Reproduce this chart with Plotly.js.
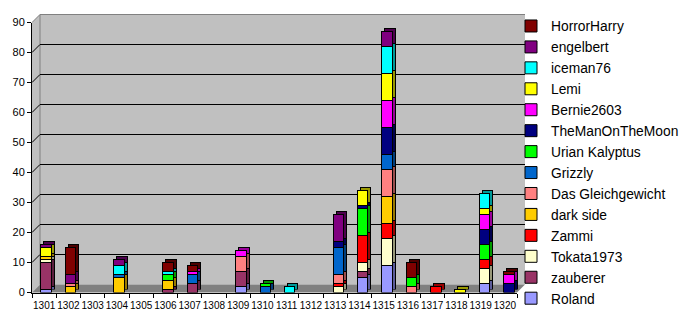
<!DOCTYPE html>
<html><head><meta charset="utf-8">
<script src="https://cdn.plot.ly/plotly-3.0.1.min.js"></script>
<style>html,body{margin:0;padding:0;background:#fff;}#chart{width:690px;height:320px;}</style>
</head><body><div id="chart"></div>
<script>
// ---------- DATA ----------
const categories = ['1301','1302','1303','1304','1305','1306','1307','1308','1309','1310',
                    '1311','1312','1313','1314','1315','1316','1317','1318','1319','1320'];
const roland          = [1,0,0,0,0,0,0,0,2,0,0,0,0,5,9,0,0,0,3,0];
const zauberer        = [9,0,0,0,0,1,3,0,5,0,0,0,0,2,0,0,0,0,0,0];
const tokata1973      = [1,0,0,0,0,0,0,0,0,0,0,0,2,3,9,0,0,0,5,0];
const zammi           = [0,0,0,0,0,0,0,0,0,0,0,0,1,9,5,0,2,0,3,0];
const darkSide        = [1,2,0,5,0,3,0,0,0,0,0,0,0,0,9,0,0,0,0,0];
const dasGleichgewicht= [0,1,0,0,0,0,0,0,5,0,0,0,3,0,9,2,0,0,0,0];
const grizzly         = [0,0,0,1,0,0,3,0,0,2,0,0,9,0,5,0,0,0,0,0];
const urianKalyptus   = [0,0,0,0,0,2,0,0,0,1,0,0,0,9,0,3,0,0,5,0];
const theManOnTheMoon = [0,0,0,0,0,0,0,0,0,0,0,0,2,1,9,0,0,0,5,3];
const bernie2603      = [0,0,0,0,0,0,1,0,2,0,0,0,0,0,9,0,0,0,5,3];
const lemi            = [3,0,0,0,0,0,0,0,0,0,0,0,0,5,9,0,0,1,2,0];
const iceman76        = [0,0,0,3,0,1,0,0,0,0,2,0,0,0,9,0,0,0,5,0];
const engelbert       = [1,3,0,2,0,0,0,0,0,0,0,0,9,0,5,0,0,0,0,0];
const horrorHarry     = [0,9,0,0,0,3,2,0,0,0,0,0,0,0,0,5,0,0,0,1];

const seriesNames  = ['Roland','zauberer','Tokata1973','Zammi','dark side','Das Gleichgewicht','Grizzly',
                      'Urian Kalyptus','TheManOnTheMoon','Bernie2603','Lemi','iceman76','engelbert','HorrorHarry'];
const seriesValues = [roland,zauberer,tokata1973,zammi,darkSide,dasGleichgewicht,grizzly,
                      urianKalyptus,theManOnTheMoon,bernie2603,lemi,iceman76,engelbert,horrorHarry];
const seriesColors = ['#9999FF','#993366','#FFFFCC','#FF0000','#FFCC00','#FF8080','#0066CC',
                      '#00FF00','#000080','#FF00FF','#FFFF00','#00FFFF','#800080','#800000'];
const yTickVals = [0,10,20,30,40,50,60,70,80,90];

// ---------- GEOMETRY (pixels) ----------
const W = 690, H = 320;
const front = {x0:32, x1:517, y0:292.5, y1:22.5};   // front plane (axes)
const barsX = {x0:34, x1:521};                       // bar positions on the front plane
const wallShift = 8;                                 // depth of the back wall
const barShift = 3;                                  // depth of the bars
const fx = px => px / W;
const fy = py => (H - py) / H;
const yMax = 90;
const frontY = v => front.y0 - (front.y0 - front.y1) * v / yMax;
const innerTicks = yTickVals.filter(v => v > 0 && v < yMax);

function darker(hex, k) {
  const n = parseInt(hex.slice(1), 16);
  const r = Math.round(((n >> 16) & 255) * k), g = Math.round(((n >> 8) & 255) * k), b = Math.round((n & 255) * k);
  return 'rgb(' + r + ',' + g + ',' + b + ')';
}
const toNull = arr => arr.map(v => v === 0 ? null : v);

const traces = [];
// empty traces so the back-wall subplot and the front axes exist
traces.push({type:'scatter', x:[], y:[], xaxis:'x', yaxis:'y', showlegend:false, hoverinfo:'skip'});
// depth (side/top faces) drawn in a slightly shifted subplot
seriesNames.forEach((name, i) => {
  traces.push({
    type:'bar', x:categories, y:toNull(seriesValues[i]), name:name, xaxis:'x2', yaxis:'y2',
    width:0.43, showlegend:false, hoverinfo:'skip',
    marker:{color:darker(seriesColors[i], 0.6), line:{color:'#000', width:1}}
  });
});
// front faces
seriesNames.forEach((name, i) => {
  traces.push({
    type:'bar', x:categories, y:toNull(seriesValues[i]), name:name, xaxis:'x3', yaxis:'y3',
    width:0.43, hoverinfo:'skip',
    marker:{color:seriesColors[i], line:{color:'#000', width:1}}
  });
});
traces.push({type:'scatter', x:[], y:[], xaxis:'x4', yaxis:'y4', showlegend:false, hoverinfo:'skip'});

const P = (x, y) => fx(x) + ',' + fy(y);
const shapes = [
  // back wall
  {type:'rect', xref:'paper', yref:'paper', layer:'below',
   x0:fx(front.x0 + wallShift), x1:fx(front.x1 + wallShift), y0:fy(front.y0 - wallShift), y1:fy(front.y1 - wallShift),
   fillcolor:'#C0C0C0', line:{width:0}},
  // left wall
  {type:'path', xref:'paper', yref:'paper', layer:'below',
   path:'M' + P(front.x0, front.y0) + 'L' + P(front.x0, front.y1) + 'L' + P(front.x0 + wallShift, front.y1 - wallShift) +
        'L' + P(front.x0 + wallShift, front.y0 - wallShift) + 'Z',
   fillcolor:'#C0C0C0', line:{width:0}},
  // floor
  {type:'path', xref:'paper', yref:'paper', layer:'below',
   path:'M' + P(front.x0, front.y0) + 'L' + P(front.x0 + wallShift, front.y0 - wallShift) +
        'L' + P(front.x1 + wallShift, front.y0 - wallShift) + 'L' + P(front.x1, front.y0) + 'Z',
   fillcolor:'#808080', line:{width:0}},
  // wall edges
  {type:'path', xref:'paper', yref:'paper', layer:'below',
   path:'M' + P(front.x0 + wallShift, front.y0 - wallShift) + 'L' + P(front.x0 + wallShift, front.y1 - wallShift) +
        'L' + P(front.x1 + wallShift, front.y1 - wallShift),
   line:{color:'#808080', width:1}},
  {type:'line', xref:'paper', yref:'paper', layer:'below',
   x0:fx(front.x0), y0:fy(front.y1), x1:fx(front.x0 + wallShift), y1:fy(front.y1 - wallShift),
   line:{color:'#808080', width:1}}
];
// connectors from front ticks to back wall gridlines
innerTicks.forEach(v => {
  shapes.push({type:'line', xref:'paper', yref:'paper', layer:'below',
    x0:fx(front.x0), y0:fy(frontY(v)), x1:fx(front.x0 + wallShift), y1:fy(frontY(v) - wallShift),
    line:{color:'#000', width:1}});
});

const font = 'Liberation Sans, Arial, sans-serif';
const hiddenX = {type:'category', categoryorder:'array', categoryarray:categories,
  range:[-0.5, categories.length - 0.5], showticklabels:false, ticks:'', showline:false, showgrid:false,
  zeroline:false, fixedrange:true};
const hiddenY = {range:[0, yMax], showticklabels:false, ticks:'', showline:false, showgrid:false,
  zeroline:false, fixedrange:true};
const layout = {
  width:W, height:H, margin:{l:0, r:0, t:0, b:0},
  paper_bgcolor:'#FFFFFF', plot_bgcolor:'rgba(0,0,0,0)',
  barmode:'stack', bargap:0, showlegend:true,
  font:{family:font, color:'#000'},
  // back wall with gridlines
  xaxis:Object.assign({domain:[fx(front.x0 + wallShift), fx(front.x1 + wallShift)], anchor:'y'}, hiddenX),
  yaxis:{domain:[fy(front.y0 - wallShift), fy(front.y1 - wallShift)], anchor:'x', range:[0, yMax],
         tickmode:'array', tickvals:innerTicks, showticklabels:false, ticks:'',
         showgrid:true, gridcolor:'#000000', gridwidth:1, zeroline:false, showline:false, fixedrange:true},
  // bar depth
  xaxis2:Object.assign({domain:[fx(barsX.x0 + barShift), fx(barsX.x1 + barShift)], anchor:'y2'}, hiddenX),
  yaxis2:Object.assign({domain:[fy(front.y0 - barShift), fy(front.y1 - barShift)], anchor:'x2'}, hiddenY),
  // bar front faces
  xaxis3:Object.assign({domain:[fx(barsX.x0), fx(barsX.x1)], anchor:'y3'}, hiddenX),
  yaxis3:Object.assign({domain:[fy(front.y0), fy(front.y1)], anchor:'x3'}, hiddenY),
  // visible front axes
  xaxis4:{domain:[fx(front.x0), fx(front.x1)], anchor:'y4', type:'category',
          categoryorder:'array', categoryarray:categories, range:[-0.5, categories.length - 0.5],
          tickson:'boundaries', ticks:'outside', ticklen:4, tickcolor:'#000', tickwidth:1, ticklabelstandoff:3,
          showline:true, linecolor:'#000', linewidth:1, showgrid:false, zeroline:false, tickangle:0,
          tickfont:{family:font, size:10, color:'#000'}, fixedrange:true},
  yaxis4:{domain:[fy(front.y0), fy(front.y1)], anchor:'x4', range:[0, yMax],
          tickmode:'array', tickvals:yTickVals, ticks:'outside', ticklen:4, tickcolor:'#000', tickwidth:1,
          showline:true, linecolor:'#000', linewidth:1, showgrid:false, zeroline:false,
          tickfont:{family:font, size:11, color:'#000'}, fixedrange:true},
  legend:{x:fx(511), y:fy(10.5), xanchor:'left', yanchor:'top', bgcolor:'rgba(0,0,0,0)', borderwidth:0,
          traceorder:'reversed', font:{family:font, size:13.8, color:'#000'}},
  shapes:shapes
};

Plotly.newPlot('chart', traces, layout, {staticPlot:true, displayModeBar:false});
</script>
</body></html>
